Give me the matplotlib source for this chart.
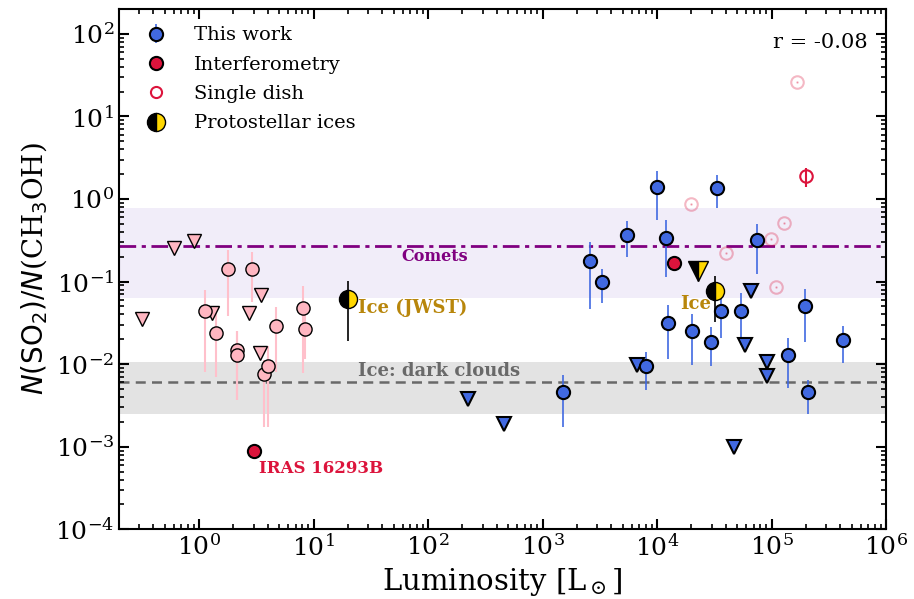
import numpy as np
import matplotlib
matplotlib.use('Agg')
import matplotlib.pyplot as plt

plt.rcParams['font.family'] = 'DejaVu Serif'
plt.rcParams['mathtext.fontset'] = 'dejavuserif'

# ---------------- data ----------------
# This work: detections
tw_L = [1500, 2600, 3300, 5450, 8070, 10000, 12100, 12400, 20200, 29400,
        33600, 36400, 54000, 74400, 138700, 196800, 207500, 419000]
tw_R = [0.0046, 0.178, 0.099, 0.37, 0.0095, 1.38, 0.34, 0.0317, 0.025, 0.0188,
        1.36, 0.0446, 0.0446, 0.315, 0.0130, 0.050, 0.0046, 0.0197]
tw_lo = [0.00174, 0.047, 0.055, 0.20, 0.0049, 0.56, 0.113, 0.0115, 0.0098, 0.0094,
         0.78, 0.0207, 0.0171, 0.124, 0.0051, 0.0188, 0.0025, 0.0103]
tw_hi = [0.0074, 0.305, 0.142, 0.535, 0.0142, 2.16, 0.56, 0.052, 0.0407, 0.028,
         1.97, 0.069, 0.0726, 0.50, 0.0207, 0.081, 0.0065, 0.029]
# This work: upper limits
twu_L = [225, 459, 6730, 47500, 58100, 66500, 91600, 91600]
twu_R = [0.0038, 0.0019, 0.0098, 0.0010, 0.0171, 0.076, 0.0105, 0.0071]

# Low-mass literature (interferometry): detections
lm_L = [1.12, 1.40, 1.78, 2.13, 2.13, 2.88, 3.69, 4.02, 4.67, 8.03, 8.41]
lm_R = [0.0443, 0.0238, 0.142, 0.0149, 0.0130, 0.143, 0.0076, 0.0094, 0.0291, 0.0485, 0.0266]
lm_lo = [0.0081, 0.0070, 0.0385, 0.0037, 0.0037, 0.0558, 0.00173, 0.00175, 0.0081, 0.0079, 0.0116]
lm_hi = [0.0795, 0.0415, 0.243, 0.0253, 0.0253, 0.228, 0.0113, 0.0167, 0.049, 0.089, 0.05]
# Low-mass literature: upper limits
lmu_L = [0.32, 0.60, 0.90, 1.31, 2.75, 3.41, 3.48]
lmu_R = [0.035, 0.255, 0.312, 0.0415, 0.0415, 0.0136, 0.069]

# Interferometry (high-mass) and IRAS 16293B
int_L = [13960]
int_R = [0.17]
iras_L = [3.0]
iras_R = [9e-4]

# Single dish
sd_faint_L = [19900, 40300, 99300, 110000, 129800, 167500]
sd_faint_R = [0.86, 0.222, 0.33, 0.086, 0.512, 26.2]
sd_L = [199500]
sd_R = [1.88]
sd_lo = [1.40]
sd_hi = [2.37]

# Protostellar ices
ice_jwst = (20, 0.062, 0.0193, 0.102)
ice_circ = (31800, 0.076, 0.0328, 0.1175)
ice_tri = (23000, 0.135)

# Reference levels
comets_val, comets_lo, comets_hi = 0.27, 0.064, 0.78
cloud_val, cloud_lo, cloud_hi = 0.006, 0.0025, 0.0107
r_text = 'r = -0.08'

x_ticks = [1e0, 1e1, 1e2, 1e3, 1e4, 1e5, 1e6]
y_ticks = [1e-4, 1e-3, 1e-2, 1e-1, 1e0, 1e1, 1e2]

# ---------------- figure ----------------
fig = plt.figure(figsize=(9.14, 5.99), dpi=100)
ax = fig.add_axes([119/914, 1-529.3/599, (886-119)/914, (529.3-9)/599])
ax.set_xscale('log')
ax.set_yscale('log')

ax.axhspan(comets_lo, comets_hi, color='#f1edf9', zorder=0, lw=0)
ax.axhline(comets_val, color='purple', ls='-.', lw=2, zorder=1,
           dashes=(6, 2, 1.5, 2))
ax.axhspan(cloud_lo, cloud_hi, color='#e3e3e3', zorder=0, lw=0)
ax.axhline(cloud_val, color='dimgray', ls='--', lw=1.8, zorder=1, dashes=(4, 2.5))

def yerr(v, lo, hi):
    v = np.array(v); return [v - np.array(lo), np.array(hi) - v]

# low mass
ax.errorbar(lm_L, lm_R, yerr=yerr(lm_R, lm_lo, lm_hi), fmt='o', color='lightpink',
            mfc='lightpink', mec='black', mew=1.0, ms=9.5, ecolor='pink', elinewidth=1.5,
            zorder=3)
ax.plot(lmu_L, lmu_R, 'v', mfc='lightpink', mec='black', mew=1.0, ms=10, ls='none', zorder=3)

# single dish faint
ax.plot(sd_faint_L, sd_faint_R, 'o', mfc='none', mec='crimson', alpha=0.3, mew=1.5, ms=9, ls='none', zorder=3)
ax.plot(sd_faint_L, sd_faint_R, '.', color='crimson', alpha=0.3, ms=1.5, ls='none', zorder=3)

# this work
h_tw = ax.errorbar(tw_L, tw_R, yerr=yerr(tw_R, tw_lo, tw_hi), fmt='o', color='royalblue',
                   mfc='royalblue', mec='black', mew=1.5, ms=9.5, ecolor='royalblue',
                   elinewidth=1.2, zorder=4, label='This work')
ax.plot(twu_L, twu_R, 'v', mfc='royalblue', mec='black', mew=1.5, ms=10, ls='none', zorder=4)

# interferometry
h_int, = ax.plot(int_L, int_R, 'o', mfc='crimson', mec='black', mew=1.5, ms=9.5, ls='none',
                 zorder=4, label='Interferometry')
ax.plot(iras_L, iras_R, 'o', mfc='crimson', mec='black', mew=1.5, ms=9.5, ls='none', zorder=4)

# single dish
ax.errorbar(sd_L, sd_R, yerr=yerr(sd_R, sd_lo, sd_hi), fmt='o', mfc='none', mec='crimson',
            ecolor='crimson', mew=1.5, ms=9, elinewidth=1.5, zorder=4)
h_sd, = ax.plot([], [], 'o', mfc='none', mec='crimson', mew=1.5, ms=8, ls='none', label='Single dish')

# ices
ax.errorbar([ice_jwst[0]], [ice_jwst[1]], yerr=yerr([ice_jwst[1]], [ice_jwst[2]], [ice_jwst[3]]),
            fmt='o', ms=13, fillstyle='left', mfc='black', mfcalt='gold', mec='black', mew=1,
            ecolor='black', elinewidth=1.2, zorder=5)
ax.errorbar([ice_circ[0]], [ice_circ[1]], yerr=yerr([ice_circ[1]], [ice_circ[2]], [ice_circ[3]]),
            fmt='o', ms=13, fillstyle='left', mfc='black', mfcalt='gold', mec='black', mew=1,
            ecolor='black', elinewidth=1.2, zorder=5)
ax.plot([ice_tri[0]], [ice_tri[1]], 'v', ms=14, fillstyle='left', mfc='black', mfcalt='gold',
        mec='black', mew=1, ls='none', zorder=5)
h_ice, = ax.plot([], [], 'o', ms=13, fillstyle='left', mfc='black', mfcalt='gold', mec='black',
                 mew=1, ls='none', label='Protostellar ices')

# annotations
ax.text(115, 0.2, 'Comets', color='purple', fontsize=11.5, fontweight='bold', ha='center', va='center')
ax.text(125, 0.0083, 'Ice: dark clouds', color='dimgray', fontsize=13, fontweight='bold', ha='center', va='center')
ax.text(24.4, 0.048, 'Ice (JWST)', color='darkgoldenrod', fontsize=13, fontweight='bold', ha='left', va='center')
ax.text(29900, 0.0538, 'Ice', color='darkgoldenrod', fontsize=13, fontweight='bold', ha='right', va='center')
ax.text(3.34, 5.4e-4, 'IRAS 16293B', color='crimson', fontsize=12, fontweight='bold', ha='left', va='center')
ax.text(0.9765, 0.9347, r_text, transform=ax.transAxes, fontsize=15, ha='right', va='center')

ax.legend(handles=[h_tw, h_int, h_sd, h_ice], loc='upper left', frameon=False, fontsize=14,
          labelspacing=0.58, handletextpad=0.95, borderaxespad=0.5)

ax.set_xlabel(r'Luminosity [L$_\odot$]', fontsize=21)
ax.set_ylabel(r'$N\mathrm{(SO_2)}$/$N$(CH$_3$OH)', fontsize=20, math_fontfamily='dejavusans')

ax.set_xticks(x_ticks)
ax.set_yticks(y_ticks)
ax.xaxis.set_minor_locator(matplotlib.ticker.LogLocator(base=10, subs=np.arange(2, 10), numticks=20))
ax.yaxis.set_minor_locator(matplotlib.ticker.LogLocator(base=10, subs=np.arange(2, 10), numticks=20))
ax.xaxis.set_minor_formatter(matplotlib.ticker.NullFormatter())
ax.yaxis.set_minor_formatter(matplotlib.ticker.NullFormatter())
ax.set_xlim(0.2, 1e6)
ax.set_ylim(1e-4, 200)

ax.tick_params(which='both', direction='in', top=True, right=True, labelsize=18)
ax.tick_params(which='major', length=7, width=1.5)
ax.tick_params(which='minor', length=3.5, width=1.2)
for s in ax.spines.values():
    s.set_linewidth(1.5)

fig.savefig('out.png', dpi=100)
